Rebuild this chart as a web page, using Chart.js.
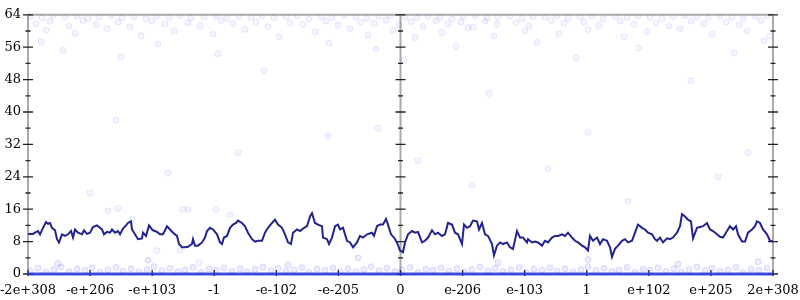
<!DOCTYPE html>
<html>
<head>
<meta charset="utf-8">
<script src="https://cdn.jsdelivr.net/npm/chart.js@4/dist/chart.umd.min.js"></script>
<style>
html,body{margin:0;padding:0;background:#fff}
#wrap{width:800px;height:300px}
</style>
</head>
<body>
<div id="wrap"><canvas id="c" width="800" height="300"></canvas></div>
<script>

/* ===== DATA ===== */

const xLabels = ["-2e+308","-e+206","-e+103","-1","-e-102","-e-205","0","e-206","e-103","1","e+102","e+205","2e+308"]
const yTicks = [0,8,16,24,32,40,48,56,64]
const span = 745

// position along the ordered axis, 0 .. span
const linePos = [0,5,7,10,12,15,18,20,22,24,27,29,31,34,37,40,43,45,47,50,54,56,59,62,65,69,71,74,76,79,82,84,87,90,92,95,98,100,103,104,107,110,114,115,118,121,124,
125,129,132,135,139,142,145,149,151,154,157,160,164,165,167,170,174,177,179,182,185,189,192,194,196,199,202,205,208,210,214,217,220,224,227,230,234,237,240,244,247,250,
254,257,260,263,265,269,272,275,279,282,284,287,290,294,295,299,301,304,307,310,312,315,319,322,325,329,332,335,339,344,346,349,352,355,358,360,363,366,369,372,
375,377,380,384,387,390,394,397,400,404,407,410,414,417,420,424,427,430,434,436,439,442,445,449,451,454,457,460,464,466,469,472,475,479,482,485,489,492,495,499,
500,504,507,510,514,517,520,524,527,530,534,537,540,544,547,550,554,557,560,562,565,569,572,575,579,582,584,587,590,594,597,600,604,607,610,614,617,620,624,627,
629,632,635,639,642,645,649,652,654,657,660,663,665,669,672,675,679,682,685,689,692,695,699,702,705,708,710,714,717,720,724,727,729,732,735,739,742,745]

const lineVals = [9.9,9.9,10.2,10.6,9.8,11.4,12.8,12.4,12.6,11.4,10.8,8.6,7.8,9.8,9.4,9.8,10.6,9.0,11.0,10.2,9.8,10.8,9.9,10.2,11.6,12.0,11.6,11.0,9.8,10.4,10.2,11.0,10.2,10.6,9.8,11.2,12.0,12.6,13.0,11.0,9.8,8.6,8.8,10.2,9.4,12.0,11.0,
10.8,10.4,9.8,9.8,11.8,11.0,10.2,9.4,7.4,6.6,6.6,6.7,7.4,8.6,7.0,7.0,7.8,9.0,10.6,11.4,11.0,9.8,7.8,7.4,9.0,9.4,11.4,12.2,12.6,13.2,12.6,11.8,10.2,8.6,8.0,8.2,
8.2,10.2,11.4,12.6,13.4,12.2,11.4,9.8,7.8,7.4,10.2,11.0,10.6,11.2,11.8,14.2,15.0,12.6,12.2,11.8,9.0,8.6,7.4,9.0,11.8,12.2,11.0,11.4,8.2,7.8,6.6,7.8,9.4,9.0,9.8,10.2,
9.4,11.8,12.2,12.2,13.6,12.2,9.8,9.0,7.8,5.8,5.4,7.8,9.8,10.6,10.2,10.4,7.8,8.2,9.0,10.8,9.8,10.2,9.4,9.8,12.6,12.2,10.2,9.8,7.4,12.2,11.4,11.8,13.2,13.0,11.0,12.6,9.8,9.4,
7.4,4.6,7.0,7.8,7.4,7.8,6.6,6.2,10.6,9.0,9.0,7.8,8.6,7.8,8.0,7.8,7.0,8.2,7.8,9.0,9.4,9.4,9.8,9.4,10.2,9.0,8.2,7.8,7.0,6.6,5.8,9.4,8.2,9.0,7.4,8.6,8.2,6.6,4.2,6.2,7.0,
8.2,8.6,7.8,8.2,10.2,12.2,11.4,11.0,10.2,9.8,8.6,8.2,9.0,7.8,8.8,8.6,9.0,10.2,11.8,14.8,14.2,13.4,13.0,8.8,11.4,11.6,11.8,12.6,11.0,10.6,9.8,9.2,9.0,10.6,11.8,11.0,11.8,
9.8,8.0,8.0,10.2,11.0,11.8,13.0,12.6,11.0,9.8,8.2,8.0,8.0]

// faint sample clouds [position, value]
const topCloud = [[3,63.6],[14,63.2],[25,63.8],[37,63.4],[49,63.7],[60,63.1],[71,63.5],[83,63.8],[94,63.3],[106,63.6],[118,63.0],[129,63.7],[141,63.4],[152,63.8],[163,63.2],
[176,63.5],[188,63.7],[199,63.1],[211,63.6],[223,63.4],[234,63.8],[246,63.2],[258,63.5],[269,63.7],[281,63.0],[293,63.6],[304,63.3],[316,63.8],[328,63.4],[339,63.1],
[351,63.6],[362,63.8],[377,63.5],[389,63.2],[400,63.7],[412,63.4],[424,63.0],[435,63.6],[447,63.8],[459,63.3],[470,63.5],[482,63.7],[494,63.1],[505,63.6],[517,63.4],
[529,63.8],[540,63.2],[552,63.5],[564,63.7],[575,63.0],[587,63.6],[599,63.3],[610,63.8],[622,63.4],[634,63.1],[645,63.6],[657,63.8],[669,63.5],[680,63.2],[692,63.7],
[704,63.4],[715,63.0],[727,63.6],[739,63.8],
[8,61.8],[22,62.4],[41,61.2],[55,62.6],[68,61.6],[90,62.2],[102,61.0],[124,62.5],[137,61.7],[160,62.0],[172,61.3],[193,62.6],[205,61.8],[228,62.3],[240,61.1],[262,62.0],
[275,61.6],[298,62.5],[310,61.4],[333,62.1],[346,61.9],[358,62.7],[371,61.5],[383,62.3],[395,61.2],[408,62.6],[420,61.8],[433,62.2],[445,61.0],[457,62.4],[469,61.7],
[488,62.1],[501,61.3],[523,62.6],[536,61.9],[556,62.2],[571,61.4],[592,62.5],[606,61.7],[628,62.0],[641,61.2],[663,62.4],[676,61.8],[698,62.2],[711,61.5],[733,62.6],
[18,60.2],[47,59.4],[79,60.6],[113,58.8],[146,60.0],[185,59.2],[217,60.4],[251,58.6],[287,59.8],[322,60.6],[340,59.0],[365,60.2],[387,58.4],[414,59.6],[440,60.8],
[466,58.8],[497,60.0],[531,59.4],[560,60.4],[596,58.6],[619,59.8],[652,60.6],[684,59.2],[719,60.0],[742,58.8],
[13,57.4],[35,55.2],[93,53.6],[130,56.8],[190,54.4],[236,50.2],[301,57.0],[348,55.6],[376,52.8],[428,56.2],[461,44.6],[509,57.2],[548,53.4],[611,55.8],[663,47.8],
[706,54.6],[736,57.6]]

const midCloud = [[62,20],[88,38],[140,25],[210,30],[300,34],[350,36],[390,28],[444,22],[520,26],[560,35],[600,18],[690,24],[720,30],
[80,15.6],[90,16.2],[104,13.5],[155,16],[160,16],[188,16],[202,14.5],[129,5.8],[152,5.8],[171,2.8]]

const bottomCloud = [[2,0.8],[10,1.4],[18,0.5],[26,1.1],[33,1.7],[41,0.6],[49,1.2],[57,0.9],[64,1.5],[72,0.4],[80,1.0],[88,1.6],[95,0.7],[103,1.3],[111,0.5],[119,1.1],
[126,1.8],[134,0.8],[142,1.4],[150,0.6],[157,1.0],[165,1.6],[173,0.4],[181,1.2],[188,0.9],[196,1.5],[204,0.7],[212,1.3],[219,0.5],[227,1.1],[235,1.7],[243,0.8],
[250,1.4],[258,0.6],[266,1.0],[274,1.6],[281,0.4],[289,1.2],[297,0.9],[305,1.5],[312,0.7],[320,1.3],[328,0.5],[336,1.1],[343,1.8],[351,0.8],[359,1.4],[367,0.6],
[374,1.0],[382,1.6],[390,0.4],[398,1.2],[405,0.9],[413,1.5],[421,0.7],[429,1.3],[436,0.5],[444,1.1],[452,1.7],[460,0.8],[467,1.4],[475,0.6],[483,1.0],[491,1.6],
[498,0.4],[506,1.2],[514,0.9],[522,1.5],[529,0.7],[537,1.3],[545,0.5],[553,1.1],[560,1.8],[568,0.8],[576,1.4],[584,0.6],[591,1.0],[599,1.6],[607,0.4],[615,1.2],
[622,0.9],[630,1.5],[638,0.7],[646,1.3],[653,0.5],[661,1.1],[669,1.7],[677,0.8],[684,1.4],[692,0.6],[700,1.0],[708,1.6],[715,0.4],[723,1.2],[731,0.9],[739,1.5],
[30,2.6],[120,3.4],[260,2.2],[330,4.0],[470,2.8],[560,3.6],[650,2.4],[730,3.0]]

// the dense run of exact zeros
const zeroRun = [[0,0],[745,0]]

/* ===== FRAME + TICKS ===== */

const framePlugin = {

id:"frame",

beforeDatasetsDraw(chart){

const {ctx, chartArea:{left,right,top,bottom}, scales:{x,y}} = chart
const mid = x.getPixelForValue(span/2)

ctx.save()

ctx.strokeStyle="#aaa"
ctx.lineWidth=2

ctx.beginPath()
ctx.moveTo(left,top); ctx.lineTo(right,top)
ctx.moveTo(left,bottom); ctx.lineTo(right,bottom)
ctx.moveTo(left,top); ctx.lineTo(left,bottom)
ctx.moveTo(right,top); ctx.lineTo(right,bottom)
ctx.moveTo(mid,top); ctx.lineTo(mid,bottom)
ctx.stroke()

ctx.strokeStyle="#222"
ctx.lineWidth=1.3

ctx.beginPath()
;[left,mid,right].forEach(ax=>{
yTicks.forEach(v=>{
const py = y.getPixelForValue(v)
ctx.moveTo(ax-5,py); ctx.lineTo(ax+5,py)
if(v<64){
const pm = y.getPixelForValue(v+4)
ctx.moveTo(ax-2.5,pm); ctx.lineTo(ax+2.5,pm)
}
})
})
x.ticks.forEach(t=>{
const px = x.getPixelForValue(t.value)
ctx.moveTo(px,bottom-4); ctx.lineTo(px,bottom+2)
})
ctx.stroke()

ctx.restore()

}

}

/* ===== CHART ===== */

const font = {family:"DejaVu Serif", size:13}
const dotFill = "rgba(60,60,255,0.05)"
const dotEdge = "rgba(60,60,255,0.11)"

const pts = arr => arr.map(p=>({x:p[0], y:p[1]}))

new Chart(document.getElementById("c"),{

type:"scatter",

data:{
datasets:[
{data:pts(topCloud), pointRadius:3, backgroundColor:dotFill, borderColor:dotEdge, borderWidth:1},
{data:pts(midCloud), pointRadius:3, backgroundColor:dotFill, borderColor:dotEdge, borderWidth:1},
{data:pts(bottomCloud), pointRadius:3, backgroundColor:"rgba(60,60,255,0.09)", borderColor:"rgba(60,60,255,0.16)", borderWidth:1},
{data:pts(zeroRun), showLine:true, pointRadius:0, borderColor:"rgba(40,55,225,0.85)", borderWidth:3, clip:false},
{data:linePos.map((p,i)=>({x:p, y:lineVals[i]})), showLine:true, pointRadius:0, borderColor:"#23238e", borderWidth:2, tension:0}
]
},

options:{
responsive:false,
animation:false,
layout:{padding:{top:8, right:27, left:0, bottom:0}},
plugins:{legend:{display:false}, tooltip:{enabled:false}},
scales:{
x:{
type:"linear", min:0, max:span,
grid:{display:false, drawTicks:false}, border:{display:false},
afterBuildTicks(scale){ scale.ticks = xLabels.map((_,i)=>({value:i*span/12})) },
afterFit(scale){ scale.height = 26; scale.paddingLeft = 0; scale.paddingRight = 0 },
ticks:{font, color:"#000", padding:9, autoSkip:false, maxRotation:0, callback:(v,i)=>xLabels[i]}
},
y:{
min:0, max:64,
grid:{display:false, drawTicks:false}, border:{display:false},
afterFit(scale){ scale.width = 28 },
ticks:{font, color:"#000", padding:7, stepSize:8}
}
}
},

plugins:[framePlugin]

})

</script>
</body>
</html>
